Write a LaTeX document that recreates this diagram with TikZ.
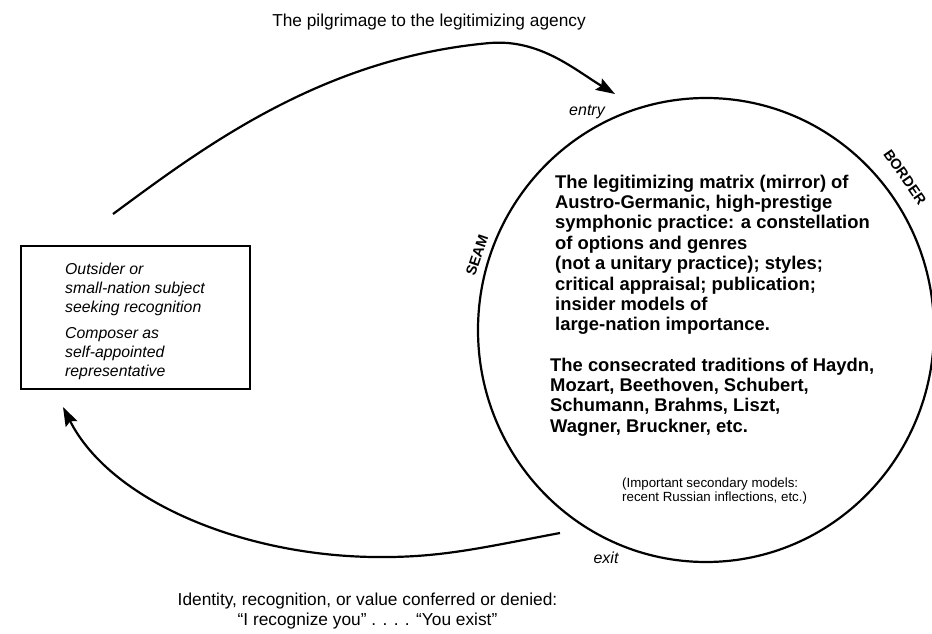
\documentclass[tikz,border=0pt]{standalone}
\usepackage{fontspec}
\setmainfont{Liberation Sans}
\usepackage{xcolor}
\usepackage{tikz}
\usetikzlibrary{arrows.meta,positioning,shapes.geometric}
\tikzset{
  agency/.style={draw, line width=2.2pt, ellipse, minimum width=456pt, minimum height=464pt,
                 inner sep=0pt},
  subjbox/.style={draw, line width=1.8pt, minimum width=229pt, minimum height=143pt, inner sep=0pt},
  matrixtxt/.style={anchor=north west, align=left, inner sep=0pt,
                    font=\bfseries\fontsize{18.4}{20.4}\selectfont},
  subjtxt/.style={anchor=north west, align=left, inner sep=0pt,
                  font=\itshape\fontsize{15.8}{18.7}\selectfont},
  smalltxt/.style={anchor=north west, align=left, inner sep=0pt, font=\fontsize{13.3}{14.5}\selectfont},
  capt/.style={inner sep=0pt, font=\fontsize{17.3}{20}\selectfont},
  gate/.style={inner sep=0pt, font=\itshape\fontsize{16}{18}\selectfont},
  rimlabel/.style={inner sep=0pt, font=\bfseries\fontsize{14.5}{16}\selectfont},
  flow/.style={line width=2.2pt, -{Stealth[length=19pt, width=13pt, inset=3pt]}},
}

\begin{document}
\begin{tikzpicture}[x=1pt, y=-1pt]
    \useasboundingbox (0,0) rectangle (932,634);
    \node[agency] (legit) at (706,330) {};
    \node[subjbox] (outsider) at (135.5,317.5) {};
    \node[subjtxt] (outsidertxt) at (65,263) {Outsider or\\small-nation subject\\seeking recognition\\[8pt]Composer as\\self-appointed\\representative};
    \node[matrixtxt] (mirror) at (555,174.5) {The legitimizing matrix (mirror) of\\Austro-Germanic, high-prestige\\symphonic practice: a constellation\\of options and genres\\(not a unitary practice); styles;\\critical appraisal; publication;\\insider models of\\large-nation importance.};
    \node[matrixtxt] (canon) at (550,357.5) {The consecrated traditions of Haydn,\\Mozart, Beethoven, Schubert,\\Schumann, Brahms, Liszt,\\Wagner, Bruckner, etc.};
    \node[smalltxt] (secondary) at (622,477.5) {(Important secondary models:\\recent Russian inflections, etc.)};
    \node[capt, anchor=base] (pilgrimage) at (429,27) {The pilgrimage to the legitimizing agency};
    \node[capt, align=center, anchor=north] (identity) at (367.5,592.5) {Identity, recognition, or value conferred or denied:\\“I recognize you” . . . . “You exist”};
    \node[gate, anchor=base] (entry) at (587,115) {entry};
    \node[gate, anchor=base] (exit) at (606,563) {exit};
    \node[rimlabel, rotate=71] (seam) at (477,255) {SEAM};
    \node[rimlabel, rotate=-55] (border) at (905,177) {BORDER};
    \coordinate (pilgstart) at (113,214);
    \coordinate (pilgtop) at (490,43);
    \coordinate (pilgend) at (615,94);
    \coordinate (retstart) at (560,533);
    \coordinate (retlow) at (373,557);
    \coordinate (retend) at (63,407);
    \draw[flow] (pilgstart) .. controls (200,150) and (320,58) .. (pilgtop) .. controls (540,39) and (575,70) .. (pilgend);
    \draw[flow] (retstart) .. controls (480,548) and (440,558) .. (retlow) .. controls (240,555) and (110,500) .. (retend);
\end{tikzpicture}
\end{document}
